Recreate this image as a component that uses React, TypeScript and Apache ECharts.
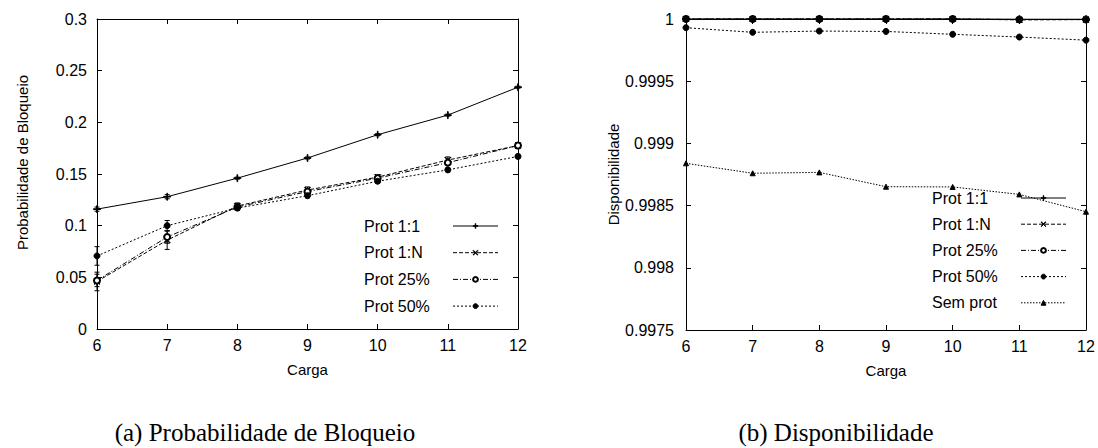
import React, { useEffect, useRef } from "react";
import * as echarts from "echarts";

// ---------- data ----------
const carga = [6, 7, 8, 9, 10, 11, 12];

// (a) Probabilidade de Bloqueio
const bloqProt11 = [0.116, 0.128, 0.146, 0.1655, 0.188, 0.207, 0.234];
const bloqProt1N = [0.046, 0.086, 0.119, 0.1345, 0.147, 0.1635, 0.1775];
const bloqProt25 = [0.047, 0.089, 0.118, 0.133, 0.146, 0.161, 0.1775];
const bloqProt50 = [0.0707, 0.1, 0.117, 0.129, 0.143, 0.154, 0.167];
// error bar half-widths
const errProt11 = [0.002, 0.002, 0.001, 0.001, 0.001, 0.001, 0.001];
const errProt1N = [0.009, 0.009, 0.003, 0.003, 0.002, 0.003, 0.002];
const errProt25 = [0.006, 0.006, 0.003, 0.002, 0.002, 0.002, 0.002];
const errProt50 = [0.009, 0.005, 0.002, 0.002, 0.002, 0.002, 0.002];

// (b) Disponibilidade
const dispProt11 = [1, 1, 1, 1, 1, 0.999998, 0.999998];
const dispProt1N = [1, 1, 1, 1, 1, 0.999993, 0.999995];
const dispProt25 = [1, 1, 1, 1, 1, 0.999996, 0.999996];
const dispProt50 = [0.99993, 0.999893, 0.999903, 0.9999, 0.999877, 0.999855, 0.99983];
const dispSemProt = [0.99884, 0.99876, 0.998767, 0.998652, 0.99865, 0.99859, 0.998451];

// tick labels
const xTickLabels = ["6", "7", "8", "9", "10", "11", "12"];
const bloqTickLabels = ["0", "0.05", "0.1", "0.15", "0.2", "0.25", "0.3"];
const dispTickLabels = ["0.9975", "0.998", "0.9985", "0.999", "0.9995", "1"];

const legendNamesA = ["Prot 1:1", "Prot 1:N", "Prot 25%", "Prot 50%"];
const legendNamesB = ["Prot 1:1", "Prot 1:N", "Prot 25%", "Prot 50%", "Sem prot"];

const captionA = "(a) Probabilidade de Bloqueio";
const captionB = "(b) Disponibilidade";

// ---------- styles ----------
const SANS = '"Liberation Sans", Arial, Helvetica, sans-serif';
const SERIF = '"Liberation Serif", "Times New Roman", serif';
const BLACK = "#000";

const PLUS = "path://M0,4.5H10V5.5H0Z M4.5,0H5.5V10H4.5Z";
const CROSS = "path://M0,0.7L0.7,0L10,9.3L9.3,10Z M9.3,0L10,0.7L0.7,10L0,9.3Z";

const seriesStyles: Record<string, any> = {
  "Prot 1:1": { symbol: PLUS, symbolSize: 7, dash: "solid" },
  "Prot 1:N": { symbol: CROSS, symbolSize: 6, dash: [4, 2] },
  "Prot 25%": { symbol: "emptyCircle", symbolSize: 6, dash: [5, 2, 1, 2] },
  "Prot 50%": { symbol: "circle", symbolSize: 6, dash: [2, 2] },
  "Sem prot": { symbol: "triangle", symbolSize: 5, dash: [1.5, 1.5] },
};

function lineSeries(name: string, values: number[], axisIndex: number, override: any = {}) {
  const s = seriesStyles[name];
  return {
    type: "line",
    name,
    xAxisIndex: axisIndex,
    yAxisIndex: axisIndex,
    data: carga.map((c, i) => [c, values[i]]),
    symbol: override.symbol ?? s.symbol,
    symbolSize: override.symbolSize ?? s.symbolSize,
    showSymbol: true,
    clip: false,
    lineStyle: { color: BLACK, width: 1, type: s.dash },
    itemStyle: { color: BLACK, borderColor: BLACK, borderWidth: 1 },
    z: 3,
  };
}

function errorSeries(values: number[], errs: number[], axisIndex: number) {
  return {
    type: "custom",
    xAxisIndex: axisIndex,
    yAxisIndex: axisIndex,
    data: carga.map((c, i) => [c, values[i] - errs[i], values[i] + errs[i]]),
    encode: { x: 0, y: [1, 2] },
    clip: false,
    z: 2,
    renderItem: (_params: any, api: any) => {
      const x = api.value(0);
      const p1 = api.coord([x, api.value(1)]);
      const p2 = api.coord([x, api.value(2)]);
      const w = 2.5;
      const st = { stroke: BLACK, lineWidth: 1 };
      return {
        type: "group",
        children: [
          { type: "line", shape: { x1: p1[0], y1: p1[1], x2: p2[0], y2: p2[1] }, style: st },
          { type: "line", shape: { x1: p1[0] - w, y1: p1[1], x2: p1[0] + w, y2: p1[1] }, style: st },
          { type: "line", shape: { x1: p2[0] - w, y1: p2[1], x2: p2[0] + w, y2: p2[1] }, style: st },
        ],
      };
    },
  };
}

function labelFrom(labels: string[], min: number, interval: number) {
  return (v: number) => {
    const idx = Math.round((v - min) / interval);
    return labels[idx] ?? "";
  };
}

function xAxes(gridIndex: number) {
  const base = {
    type: "value",
    gridIndex,
    min: 6,
    max: 12,
    interval: 1,
    splitLine: { show: false },
    axisLine: { show: true, onZero: false, lineStyle: { color: BLACK, width: 1 } },
    axisTick: { show: true, inside: true, length: 5, lineStyle: { color: BLACK } },
  };
  return [
    {
      ...base,
      position: "bottom",
      name: "Carga",
      nameLocation: "middle",
      nameGap: 33,
      nameTextStyle: { color: BLACK, fontSize: 15, fontFamily: SANS },
      axisLabel: {
        color: BLACK,
        fontSize: 16,
        fontFamily: SANS,
        margin: 8,
        formatter: labelFrom(xTickLabels, 6, 1),
      },
    },
    { ...base, position: "top", axisLabel: { show: false } },
  ];
}

function yAxes(
  gridIndex: number,
  min: number,
  max: number,
  interval: number,
  labels: string[],
  name: string,
  margin: number,
  nameGap: number,
  padding: number[]
) {
  const base = {
    type: "value",
    gridIndex,
    min,
    max,
    interval,
    splitLine: { show: false },
    axisLine: { show: true, onZero: false, lineStyle: { color: BLACK, width: 1 } },
    axisTick: { show: true, inside: true, length: 5, lineStyle: { color: BLACK } },
  };
  return [
    {
      ...base,
      position: "left",
      name,
      nameLocation: "middle",
      nameGap,
      nameTextStyle: { color: BLACK, fontSize: 15, fontFamily: SANS, padding },
      axisLabel: {
        color: BLACK,
        fontSize: 16,
        fontFamily: SANS,
        margin,
        formatter: labelFrom(labels, min, interval),
      },
    },
    { ...base, position: "right", axisLabel: { show: false } },
  ];
}

function legend(names: string[], left: number, top: number, gap: number) {
  return {
    orient: "vertical",
    align: "right",
    left,
    top,
    padding: 0,
    itemWidth: 45,
    itemHeight: 6,
    itemGap: gap,
    selectedMode: false,
    data: names,
    lineStyle: { width: 1 },
    itemStyle: { borderWidth: 1 },
    formatter: (n: string) => `{t|${n}}`,
    textStyle: {
      rich: {
        t: {
          width: 84,
          align: "left",
          fontSize: 16,
          lineHeight: 18,
          fontFamily: SANS,
          color: BLACK,
        },
      },
    },
  };
}

export default function App() {
  const ref = useRef<HTMLDivElement>(null);

  useEffect(() => {
    document.body.style.margin = "0";
    if (!ref.current) return;
    const chart = echarts.init(ref.current, undefined, { renderer: "svg" });

    const xa0 = xAxes(0);
    const xa1 = xAxes(1);
    const ya0 = yAxes(0, 0, 0.3, 0.05, bloqTickLabels, "Probabilidade de Bloqueio", 10, 67, [0, 0, 0, 23]);
    const ya1 = yAxes(1, 0.9975, 1, 0.0005, dispTickLabels, "Disponibilidade", 12, 64, [0, 0, 0, 0]);

    const option: any = {
      animation: false,
      backgroundColor: "#fff",
      textStyle: { fontFamily: SANS },
      grid: [
        { left: 97, top: 19, width: 421, height: 310, containLabel: false },
        { left: 686, top: 19, width: 400, height: 311, containLabel: false },
      ],
      xAxis: [xa0[0], xa0[1], xa1[0], xa1[1]],
      yAxis: [ya0[0], ya0[1], ya1[0], ya1[1]],
      legend: [legend(legendNamesA, 364, 218, 10.7), legend(legendNamesB, 932, 190, 10.2)],
      series: [
        errorSeries(bloqProt11, errProt11, 0),
        errorSeries(bloqProt1N, errProt1N, 0),
        errorSeries(bloqProt25, errProt25, 0),
        errorSeries(bloqProt50, errProt50, 0),
        lineSeries("Prot 1:1", bloqProt11, 0),
        lineSeries("Prot 1:N", bloqProt1N, 0),
        lineSeries("Prot 25%", bloqProt25, 0),
        lineSeries("Prot 50%", bloqProt50, 0),
        lineSeries("Prot 1:1", dispProt11, 2),
        lineSeries("Prot 1:N", dispProt1N, 2),
        lineSeries("Prot 25%", dispProt25, 2, { symbol: "circle", symbolSize: 7 }),
        lineSeries("Prot 50%", dispProt50, 2),
        lineSeries("Sem prot", dispSemProt, 2),
      ],
      graphic: [
        {
          type: "text",
          x: 265,
          y: 432,
          style: {
            text: captionA,
            fontSize: 25,
            fontFamily: SERIF,
            fill: BLACK,
            align: "center",
            verticalAlign: "middle",
          },
        },
        {
          type: "text",
          x: 836,
          y: 432,
          style: {
            text: captionB,
            fontSize: 25,
            fontFamily: SERIF,
            fill: BLACK,
            align: "center",
            verticalAlign: "middle",
          },
        },
      ],
    };

    chart.setOption(option);
    return () => chart.dispose();
  }, []);

  return <div ref={ref} style={{ width: 1098, height: 448 }} />;
}
